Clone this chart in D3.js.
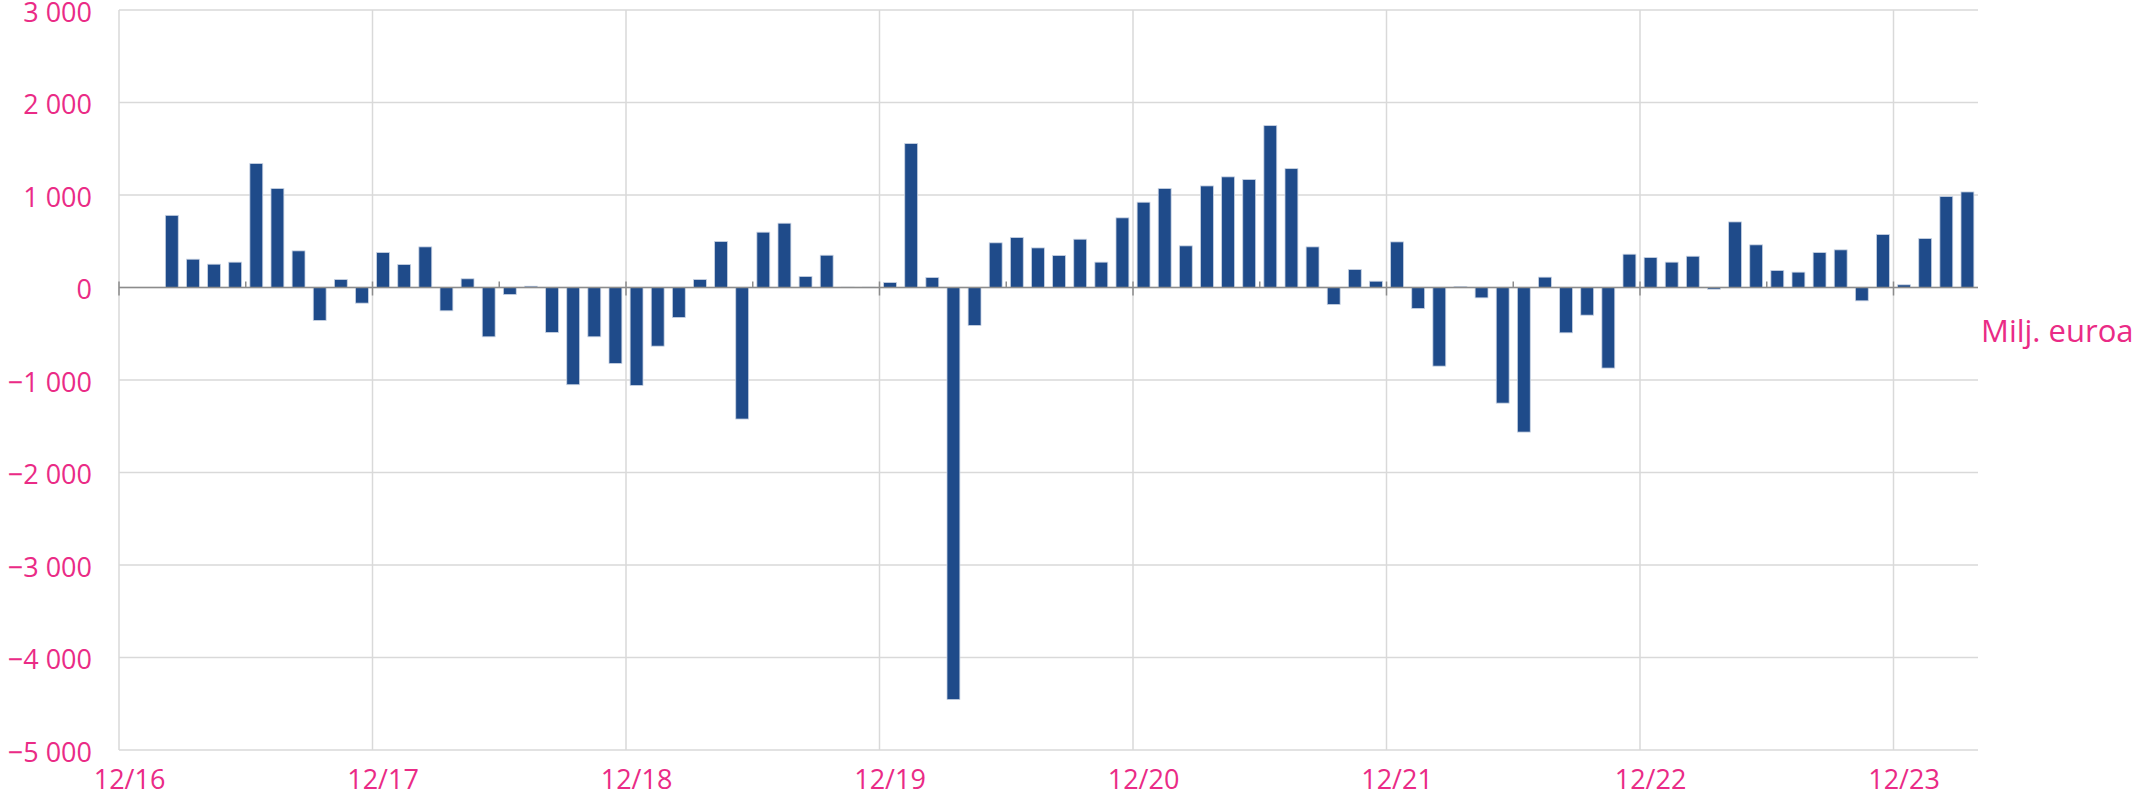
<!DOCTYPE html>
<html>
<head>
<meta charset="utf-8">
<script src="https://cdn.jsdelivr.net/npm/d3@7"></script>
<style>
  body { margin: 0; background: #fff; }
  text { font-family: "Open Sans", sans-serif; fill: #ea2b86; }
</style>
</head>
<body>
<div id="chart"></div>
<script>
// monthly values, Dec 2016 .. Mar 2024 (million euros)
var values = [null, null, 780, 306, 252, 274, 1340, 1070, 396, -356, 86, -169,
    378, 248, 439, -252, 94, -533, -76, 14, -486, -1051, -533, -821,
    -1059, -634, -324, 86, 497, -1422, 598, 695, 119, 349, 3, 3,
    54, 1556, 108, -4455, -410, 483, 540, 428, 346, 522, 274, 753,
    922, 1070, 450, 1098, 1196, 1167, 1750, 1285, 439, -184, 194, 68,
    493, -227, -850, 10, -112, -1250, -1563, 112, -490, -299, -871, 360,
    324, 274, 338, -18, 709, 461, 184, 166, 378, 407, -144, 573,
    29, 529, 983, 1033];

var months = d3.timeMonths(new Date(2016, 11, 1), new Date(2024, 3, 1));
var yearLabels = ["12/16", "12/17", "12/18", "12/19", "12/20", "12/21", "12/22", "12/23"];
var yTicks = [-5000, -4000, -3000, -2000, -1000, 0, 1000, 2000, 3000];
var unitLabel = "Milj. euroa";

var data = months.map(function (m, i) { return { key: d3.timeFormat("%-m/%y")(m), value: values[i] }; });

var margin = { top: 10, right: 173, bottom: 51, left: 119 },
    width = 2151 - margin.left - margin.right,
    height = 801 - margin.top - margin.bottom;

var fi = d3.formatLocale({ decimal: ",", thousands: "\u00a0", grouping: [3], currency: ["", "\u00a0€"], minus: "\u2212" });

var svg = d3.select("#chart")
    .append("svg")
    .attr("width", 2151)
    .attr("height", 801)
    .append("g")
    .attr("transform", "translate(" + margin.left + "," + margin.top + ")");

var x = d3.scaleBand()
    .domain(data.map(function (d) { return d.key; }))
    .range([0, width])
    .paddingInner(0.39)
    .paddingOuter(0.195);

var y = d3.scaleLinear()
    .domain([-5000, 3000])
    .range([height, 0]);

var step = x.step();
function edge(key) { return x(key) - x.paddingOuter() * step; }

// horizontal gridlines
svg.append("g")
    .selectAll("line")
    .data(yTicks)
    .enter()
    .append("line")
    .attr("x1", 0)
    .attr("x2", width)
    .attr("y1", function (d) { return y(d); })
    .attr("y2", function (d) { return y(d); })
    .attr("stroke", "#d9d9d9")
    .attr("stroke-width", 1.5);

// vertical gridlines at each year label
svg.append("g")
    .selectAll("line")
    .data(yearLabels)
    .enter()
    .append("line")
    .attr("x1", function (d) { return edge(d); })
    .attr("x2", function (d) { return edge(d); })
    .attr("y1", 0)
    .attr("y2", height)
    .attr("stroke", "#d9d9d9")
    .attr("stroke-width", 1.5);

// y labels
svg.append("g")
    .selectAll("text")
    .data(yTicks)
    .enter()
    .append("text")
    .attr("x", -27)
    .attr("y", function (d) { return y(d) + 2; })
    .attr("dy", "0.36em")
    .attr("text-anchor", "end")
    .style("font-size", "27px")
    .text(function (d) { return fi.format(",")(d); });

// bars
svg.append("g")
    .selectAll("rect")
    .data(data.filter(function (d) { return d.value !== null; }))
    .enter()
    .append("rect")
    .attr("x", function (d) { return x(d.key); })
    .attr("width", x.bandwidth())
    .attr("y", function (d) { return y(Math.max(0, d.value)); })
    .attr("height", function (d) { return Math.abs(y(d.value) - y(0)); })
    .attr("fill", "#1f4b8a")
    .attr("stroke", "#c9d3e3")
    .attr("stroke-width", 0.8);

// zero axis with ticks
var axis = svg.append("g");
axis.append("line")
    .attr("x1", 0)
    .attr("x2", width)
    .attr("y1", y(0))
    .attr("y2", y(0))
    .attr("stroke", "#8c8c8c")
    .attr("stroke-width", 1.5);

axis.selectAll(".major")
    .data(yearLabels)
    .enter()
    .append("line")
    .attr("class", "major")
    .attr("x1", function (d) { return edge(d); })
    .attr("x2", function (d) { return edge(d); })
    .attr("y1", y(0) - 6)
    .attr("y2", y(0) + 8)
    .attr("stroke", "#8c8c8c")
    .attr("stroke-width", 1.5);

axis.selectAll(".minor")
    .data(data.filter(function (d, i) { return i % 12 === 6; }))
    .enter()
    .append("line")
    .attr("class", "minor")
    .attr("x1", function (d) { return edge(d.key); })
    .attr("x2", function (d) { return edge(d.key); })
    .attr("y1", y(0) - 6)
    .attr("y2", y(0))
    .attr("stroke", "#8c8c8c")
    .attr("stroke-width", 1.5);

// x labels
svg.append("g")
    .selectAll("text")
    .data(yearLabels)
    .enter()
    .append("text")
    .attr("x", function (d) { return x(d) + x.bandwidth() / 2; })
    .attr("y", height + 30)
    .attr("dy", "0.35em")
    .attr("text-anchor", "middle")
    .style("font-size", "27px")
    .text(function (d) { return d; });

// unit label
svg.append("text")
    .attr("x", width + 3)
    .attr("y", y(-470))
    .attr("dy", "0.35em")
    .style("font-size", "31px")
    .text(unitLabel);
</script>
</body>
</html>
